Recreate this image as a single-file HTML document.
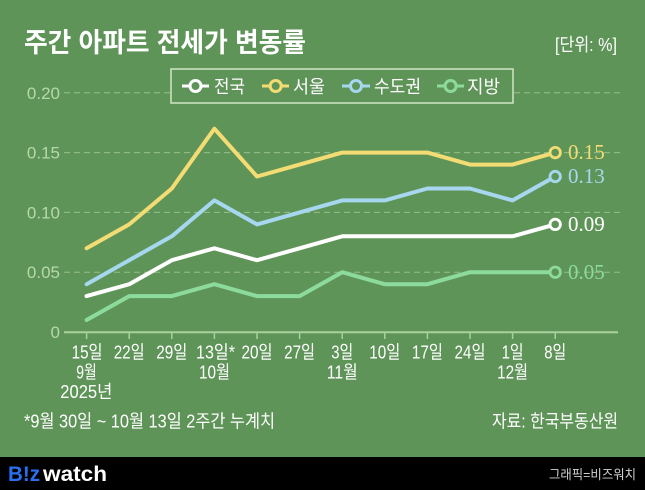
<!DOCTYPE html>
<html><head><meta charset="utf-8">
<style>
html,body{margin:0;padding:0;background:#5f9459;}
svg{display:block;}
text{font-family:"Liberation Sans","Noto Sans CJK KR",sans-serif;}
.ser{font-family:"Liberation Serif","DejaVu Serif",serif;}
</style></head>
<body>
<svg width="645" height="490" viewBox="0 0 645 490" xmlns="http://www.w3.org/2000/svg">
<rect x="0" y="0" width="645" height="490" fill="#5f9459"/>
<!-- title -->
<text x="24" y="52" font-size="27" font-weight="bold" fill="#ffffff" textLength="282" lengthAdjust="spacingAndGlyphs">주간 아파트 전세가 변동률</text>
<text x="555" y="51" font-size="18" fill="#ffffff" textLength="62" lengthAdjust="spacingAndGlyphs">[단위: %]</text>

<!-- grid -->
<g stroke="#93bf88" stroke-width="1" stroke-dasharray="6,4">
<line x1="64" y1="92.8" x2="620" y2="92.8"/>
<line x1="64" y1="152.6" x2="620" y2="152.6"/>
<line x1="64" y1="212.4" x2="620" y2="212.4"/>
<line x1="64" y1="272.2" x2="620" y2="272.2"/>
</g>
<!-- y labels -->
<g font-size="17" fill="#b5d9a9" text-anchor="end">
<text x="60" y="99">0.20</text>
<text x="60" y="158.5">0.15</text>
<text x="60" y="218.5">0.10</text>
<text x="60" y="278">0.05</text>
<text x="60" y="338">0</text>
</g>
<!-- axis -->
<line x1="64" y1="332.3" x2="618" y2="332.3" stroke="#a9d19d" stroke-width="2"/>
<g stroke="#a9d19d" stroke-width="1.5">
<line x1="86.6" y1="332" x2="86.6" y2="339"/>
<line x1="129.2" y1="332" x2="129.2" y2="339"/>
<line x1="171.8" y1="332" x2="171.8" y2="339"/>
<line x1="214.4" y1="332" x2="214.4" y2="339"/>
<line x1="257" y1="332" x2="257" y2="339"/>
<line x1="299.6" y1="332" x2="299.6" y2="339"/>
<line x1="342.2" y1="332" x2="342.2" y2="339"/>
<line x1="384.8" y1="332" x2="384.8" y2="339"/>
<line x1="427.4" y1="332" x2="427.4" y2="339"/>
<line x1="470" y1="332" x2="470" y2="339"/>
<line x1="512.6" y1="332" x2="512.6" y2="339"/>
<line x1="555.2" y1="332" x2="555.2" y2="339"/>
</g>

<!-- series -->
<g fill="none" stroke-width="4" stroke-linejoin="round" stroke-linecap="round">
<polyline stroke="#8ddb9c" points="86.6,320.0 129.2,296.1 171.8,296.1 214.4,284.2 257,296.1 299.6,296.1 342.2,272.2 384.8,284.2 427.4,284.2 470,272.2 512.6,272.2 555.2,272.2"/>
<polyline stroke="#ffffff" points="86.6,296.1 129.2,284.2 171.8,260.2 214.4,248.3 257,260.2 299.6,248.3 342.2,236.3 384.8,236.3 427.4,236.3 470,236.3 512.6,236.3 555.2,224.4"/>
<polyline stroke="#a7d7ef" points="86.6,284.2 129.2,260.2 171.8,236.3 214.4,200.4 257,224.4 299.6,212.4 342.2,200.4 384.8,200.4 427.4,188.5 470,188.5 512.6,200.4 555.2,176.5"/>
<polyline stroke="#f3dc73" points="86.6,248.3 129.2,224.4 171.8,188.5 214.4,128.7 257,176.5 299.6,164.6 342.2,152.6 384.8,152.6 427.4,152.6 470,164.6 512.6,164.6 555.2,152.6"/>
</g>
<!-- end markers -->
<g fill="#5f9459" stroke-width="2.8">
<circle cx="555.2" cy="272.2" r="5.2" stroke="#8ddb9c"/>
<circle cx="555.2" cy="224.4" r="5.2" stroke="#ffffff"/>
<circle cx="555.2" cy="176.5" r="5.2" stroke="#a7d7ef"/>
<circle cx="555.2" cy="152.6" r="5.2" stroke="#f3dc73"/>
</g>
<g font-size="21">
<text x="568" y="159" fill="#f3dc73" class="ser">0.15</text>
<text x="568" y="183" fill="#a7d7ef" class="ser">0.13</text>
<text x="568" y="231" fill="#ffffff" class="ser">0.09</text>
<text x="568" y="279" fill="#8ddb9c" class="ser">0.05</text>
</g>

<!-- legend -->
<rect x="171" y="69" width="342" height="34" fill="#5f9459" stroke="#cfe6c6" stroke-width="1.5"/>
<g stroke-width="3" fill="#5f9459">
<line x1="182" y1="86" x2="209" y2="86" stroke="#ffffff"/>
<circle cx="195.5" cy="86" r="5.5" stroke="#ffffff"/>
<line x1="262" y1="86" x2="289" y2="86" stroke="#f3dc73"/>
<circle cx="275.7" cy="86" r="5.5" stroke="#f3dc73"/>
<line x1="342" y1="86" x2="370" y2="86" stroke="#a7d7ef"/>
<circle cx="356" cy="86" r="5.5" stroke="#a7d7ef"/>
<line x1="437" y1="86" x2="464" y2="86" stroke="#8ddb9c"/>
<circle cx="450.6" cy="86" r="5.5" stroke="#8ddb9c"/>
</g>
<g font-size="18" fill="#ffffff">
<text x="214" y="93" textLength="31" lengthAdjust="spacingAndGlyphs">전국</text>
<text x="293" y="93" textLength="32" lengthAdjust="spacingAndGlyphs">서울</text>
<text x="374" y="93" textLength="47" lengthAdjust="spacingAndGlyphs">수도권</text>
<text x="467" y="93" textLength="33" lengthAdjust="spacingAndGlyphs">지방</text>
</g>

<!-- x labels -->
<g font-size="18" fill="#ffffff">
<text x="71.6" y="358.5" textLength="31" lengthAdjust="spacingAndGlyphs">15일</text>
<text x="113.7" y="358.5" textLength="31" lengthAdjust="spacingAndGlyphs">22일</text>
<text x="156.3" y="358.5" textLength="31" lengthAdjust="spacingAndGlyphs">29일</text>
<text x="196" y="358.5" textLength="39" lengthAdjust="spacingAndGlyphs">13일*</text>
<text x="241.5" y="358.5" textLength="31" lengthAdjust="spacingAndGlyphs">20일</text>
<text x="284.1" y="358.5" textLength="31" lengthAdjust="spacingAndGlyphs">27일</text>
<text x="331.2" y="358.5" textLength="22" lengthAdjust="spacingAndGlyphs">3일</text>
<text x="369.3" y="358.5" textLength="31" lengthAdjust="spacingAndGlyphs">10일</text>
<text x="411.9" y="358.5" textLength="31" lengthAdjust="spacingAndGlyphs">17일</text>
<text x="454.5" y="358.5" textLength="31" lengthAdjust="spacingAndGlyphs">24일</text>
<text x="501.6" y="358.5" textLength="22" lengthAdjust="spacingAndGlyphs">1일</text>
<text x="544.2" y="358.5" textLength="22" lengthAdjust="spacingAndGlyphs">8일</text>
<text x="76.3" y="378.5" textLength="20.5" lengthAdjust="spacingAndGlyphs">9월</text>
<text x="199" y="378.5" textLength="31" lengthAdjust="spacingAndGlyphs">10월</text>
<text x="326.7" y="378.5" textLength="31" lengthAdjust="spacingAndGlyphs">11월</text>
<text x="497.1" y="378.5" textLength="31" lengthAdjust="spacingAndGlyphs">12월</text>
<text x="60.3" y="398" textLength="52" lengthAdjust="spacingAndGlyphs">2025년</text>
</g>

<!-- notes -->
<text x="24" y="427.5" font-size="18" fill="#ffffff" textLength="251" lengthAdjust="spacingAndGlyphs">*9월 30일 ~ 10월 13일 2주간 누계치</text>
<text x="492" y="427.5" font-size="18" fill="#ffffff" textLength="126" lengthAdjust="spacingAndGlyphs">자료: 한국부동산원</text>

<!-- footer -->
<rect x="0" y="457" width="645" height="33" fill="#000000"/>
<text x="8" y="481" font-size="21" font-weight="bold" fill="#2a6ff0" textLength="32" lengthAdjust="spacingAndGlyphs">B!z</text>
<text x="43" y="481" font-size="21" font-weight="bold" fill="#ffffff" textLength="64" lengthAdjust="spacingAndGlyphs">watch</text>
<text x="549" y="479" font-size="13" fill="#d0d0d0" textLength="87" lengthAdjust="spacingAndGlyphs">그래픽=비즈워치</text>
</svg>
</body></html>
